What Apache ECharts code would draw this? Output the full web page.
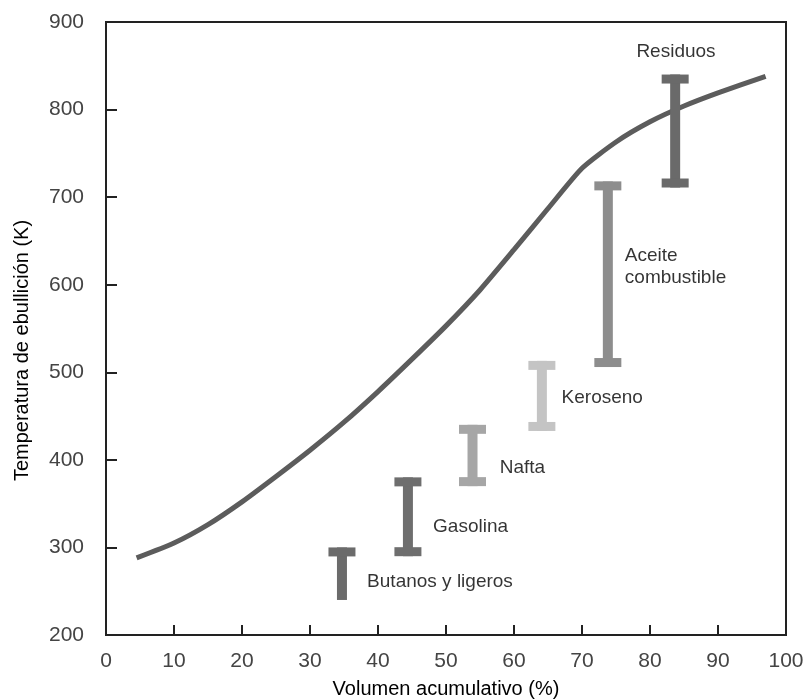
<!DOCTYPE html>
<html>
<head>
<meta charset="utf-8">
<script src="https://cdn.jsdelivr.net/npm/echarts@6/dist/echarts.min.js"></script>
<style>
  html, body { margin: 0; padding: 0; background: #fff; }
  #chart { width: 807px; height: 699px; }
</style>
</head>
<body>
<div id="chart"></div>
<script>
// curva de destilación: volumen acumulativo (%) vs temperatura (K)
const curveVol = [4.5, 10, 15, 20, 25, 30, 35, 40, 45, 50, 55, 60, 65, 70, 75, 80, 85, 90, 97];
const curveTemp = [288, 305, 326, 352, 381, 411, 443, 478, 515, 553, 594, 640, 687, 733, 763, 786, 804, 819, 838];

// fracciones (intervalos de ebullición)
const fracNames = ['Butanos y ligeros', 'Gasolina', 'Nafta', 'Keroseno', 'Aceite\ncombustible', 'Residuos'];
const fracVol = [34.7, 44.4, 53.9, 64.1, 73.8, 83.7];
const fracLow = [240, 290, 370, 433, 506, 711];
const fracHigh = [300, 380, 440, 513, 718, 840];
const fracBottomCap = [0, 1, 1, 1, 1, 1];

// donde van los textos (esquina izquierda, centro vertical)
const labelVol = [38.4, 48.1, 57.9, 67.0, 76.3, 78.0];
const labelTemp = [261, 324, 391, 471, 620, 866];

const xTicks = [0, 10, 20, 30, 40, 50, 60, 70, 80, 90, 100];
const yTicks = [200, 300, 400, 500, 600, 700, 800, 900];

// estilos
const barGrays = ['#6b6b6b', '#6e6e6e', '#a6a6a6', '#c4c4c4', '#8d8d8d', '#6a6a6a'];
const FONT = 'Liberation Sans';

const chart = echarts.init(document.getElementById('chart'));

const rangeData = fracVol.map((v, i) => [v, fracLow[i], fracHigh[i], fracBottomCap[i]]);
const labelData = labelVol.map((v, i) => [v, labelTemp[i], fracNames[i]]);

const option = {
  backgroundColor: '#fff',
  animation: false,
  grid: {
    left: 106,
    right: 21,
    top: 22,
    bottom: 64,
    outerBoundsMode: 'none',
    show: true,
    borderColor: '#222',
    borderWidth: 2
  },
  xAxis: {
    type: 'value',
    min: xTicks[0],
    max: xTicks[xTicks.length - 1],
    interval: 10,
    name: 'Volumen acumulativo (%)',
    nameLocation: 'middle',
    nameGap: 44,
    nameTextStyle: { fontFamily: FONT, fontSize: 20, color: '#000' },
    axisLine: { lineStyle: { color: '#222', width: 2 } },
    axisTick: { inside: true, length: 10, lineStyle: { color: '#222', width: 2 } },
    axisLabel: { margin: 16, fontFamily: FONT, fontSize: 21, color: '#444' },
    splitLine: { show: false }
  },
  yAxis: {
    type: 'value',
    min: yTicks[0],
    max: yTicks[yTicks.length - 1],
    interval: 100,
    name: 'Temperatura de ebullición (K)',
    nameLocation: 'middle',
    nameGap: 74,
    nameTextStyle: { fontFamily: FONT, fontSize: 20, color: '#000', padding: [0, 44, 0, 0] },
    axisLine: { lineStyle: { color: '#222', width: 2 } },
    axisTick: { inside: true, length: 11, lineStyle: { color: '#222', width: 2 } },
    axisLabel: { margin: 22, fontFamily: FONT, fontSize: 21, color: '#444' },
    splitLine: { show: false }
  },
  series: [
    {
      type: 'line',
      data: curveVol.map((v, i) => [v, curveTemp[i]]),
      smooth: 0.2,
      showSymbol: false,
      lineStyle: { color: '#5c5c5c', width: 5 },
      z: 3
    },
    {
      type: 'custom',
      data: rangeData,
      z: 4,
      renderItem: function (params, api) {
        const top = api.coord([api.value(0), api.value(2)]);
        const bot = api.coord([api.value(0), api.value(1)]);
        const color = barGrays[params.dataIndex];
        const stemW = 10, capW = 27, capH = 9;
        const children = [
          { type: 'rect', shape: { x: top[0] - stemW / 2, y: top[1], width: stemW, height: bot[1] - top[1] }, style: { fill: color } },
          { type: 'rect', shape: { x: top[0] - capW / 2, y: top[1], width: capW, height: capH }, style: { fill: color } }
        ];
        if (api.value(3)) {
          children.push({ type: 'rect', shape: { x: bot[0] - capW / 2, y: bot[1] - capH, width: capW, height: capH }, style: { fill: color } });
        }
        return { type: 'group', children: children };
      }
    },
    {
      type: 'scatter',
      data: labelData,
      symbolSize: 0,
      silent: true,
      z: 5,
      label: {
        show: true,
        position: 'inside',
        align: 'left',
        verticalAlign: 'middle',
        formatter: p => p.value[2],
        fontFamily: FONT,
        fontSize: 19,
        lineHeight: 22,
        color: '#000'
      }
    }
  ]
};

chart.setOption(option);
</script>
</body>
</html>
